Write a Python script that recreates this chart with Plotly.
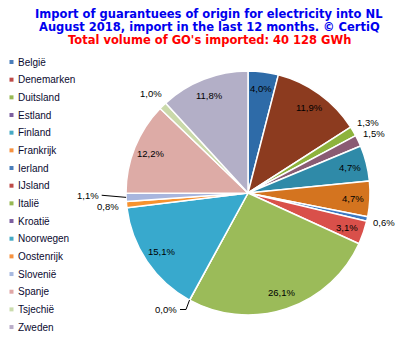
import math
import plotly.graph_objects as go

W, H = 404, 341

countries = ["België", "Denemarken", "Duitsland", "Estland", "Finland", "Frankrijk",
             "Ierland", "IJsland", "Italië", "Kroatië", "Noorwegen", "Oostenrijk",
             "Slovenië", "Spanje", "Tsjechië", "Zweden"]
shares = [4.0, 11.9, 1.3, 1.5, 4.7, 4.7, 0.6, 3.1, 26.1, 0.02, 15.1, 0.8, 1.1, 12.2, 1.0, 11.8]
slice_colors = ["#2E6BA8", "#8C3B1F", "#8DB33C", "#8A5B73", "#2F8AA8", "#D4741F",
                "#3C79C2", "#D9504A", "#9BBB59", "#7D68A6", "#38A9CD", "#F7922E",
                "#A8B6DE", "#DDABA6", "#CAD9AA", "#B3AFC7"]
legend_colors = ["#4A7EBB", "#BE4B48", "#98B954", "#7D60A0", "#46AAC5", "#F69240",
                 "#4A7EBB", "#BE4B48", "#98B954", "#7D60A0", "#46AAC5", "#F69240",
                 "#A7B9E0", "#E0A7A6", "#CBDCAE", "#B9ACC8"]
outside = {"Duitsland", "Estland", "Ierland", "Kroatië", "Oostenrijk", "Slovenië", "Tsjechië"}

title_lines = ["Import of guarantuees of origin for electricity into NL",
               "August 2018, import in the last 12 months. © CertiQ",
               "Total volume of GO's imported: 40 128 GWh"]

# pie geometry (pixels)
cx, cy, R = 248, 193, 122


def px(x):
    return x / W


def py(y):
    return 1 - y / H


fig = go.Figure()
fig.add_trace(go.Pie(
    labels=countries, values=shares, sort=False, direction="clockwise", rotation=0,
    marker=dict(colors=slice_colors, line=dict(color="white", width=1.5)),
    textinfo="none", hoverinfo="label+percent", showlegend=False,
    domain=dict(x=[px(cx - R), px(cx + R)], y=[py(cy + R), py(cy - R)]),
))

annotations = []
shapes = []
total = sum(shares)
cum = 0.0
lab_font = dict(family="Liberation Sans, Arial", size=9.5, color="#000000")
for name, v in zip(countries, shares):
    mid = (cum + v / 2) / total * 2 * math.pi
    cum += v
    txt = f"{v:.1f}%".replace(".", ",")
    s, c = math.sin(mid), math.cos(mid)
    if name == "Kroatië":
        ex, ey = cx + R * s, cy - R * c
        kx, ky = cx + 1.06 * R * s, cy - 1.06 * R * c + 3
        hx = kx - 6
        shapes.append(dict(type="path", xref="paper", yref="paper",
                           path=f"M{px(ex)},{py(ey)} L{px(kx)},{py(ky)} L{px(hx)},{py(ky)}",
                           line=dict(color="black", width=1)))
        annotations.append(dict(x=px(hx - 1), y=py(ky), text=txt, xanchor="right", yanchor="middle",
                                showarrow=False, font=lab_font))
    elif name == "Slovenië":
        ex, ey = cx + R * s, cy - R * c
        lx, ly = cx + 1.2 * R * s, cy - 1.2 * R * c - 3
        shapes.append(dict(type="line", xref="paper", yref="paper",
                           x0=px(ex), y0=py(ey), x1=px(lx), y1=py(ly),
                           line=dict(color="black", width=1)))
        annotations.append(dict(x=px(lx - 1), y=py(ly), text=txt, xanchor="right", yanchor="middle",
                                showarrow=False, font=lab_font))
    else:
        r = 1.14 * R if name in outside else 0.86 * R
        if name == "Oostenrijk":
            r = 1.15 * R
        annotations.append(dict(x=px(cx + r * s), y=py(cy - r * c), text=txt,
                                xanchor="center", yanchor="middle", showarrow=False, font=lab_font))

# legend
for i, (name, col) in enumerate(zip(countries, legend_colors)):
    y = 62 + i * 17.67
    shapes.append(dict(type="rect", xref="paper", yref="paper",
                       x0=px(9.5), x1=px(13.5), y0=py(y - 2), y1=py(y + 2),
                       fillcolor=col, line=dict(width=0)))
    annotations.append(dict(x=px(16), y=py(y), text=name, xanchor="left", yanchor="middle",
                            showarrow=False,
                            font=dict(family="Liberation Sans, Arial", size=10, color="#0a0a30")))

# title
title_colors = ["#0000EE", "#0000EE", "#FF0000"]
for i, (t, col) in enumerate(zip(title_lines, title_colors)):
    annotations.append(dict(x=px(209), y=py(14 + 13 * i), text=f"<b>{t}</b>", xanchor="center",
                            yanchor="middle", showarrow=False,
                            font=dict(family="DejaVu Sans, Verdana", size=11.5, color=col)))

fig.update_layout(width=W, height=H, margin=dict(l=0, r=0, t=0, b=0),
                  paper_bgcolor="white", plot_bgcolor="white",
                  annotations=annotations, shapes=shapes)

fig.write_html("out.html")
